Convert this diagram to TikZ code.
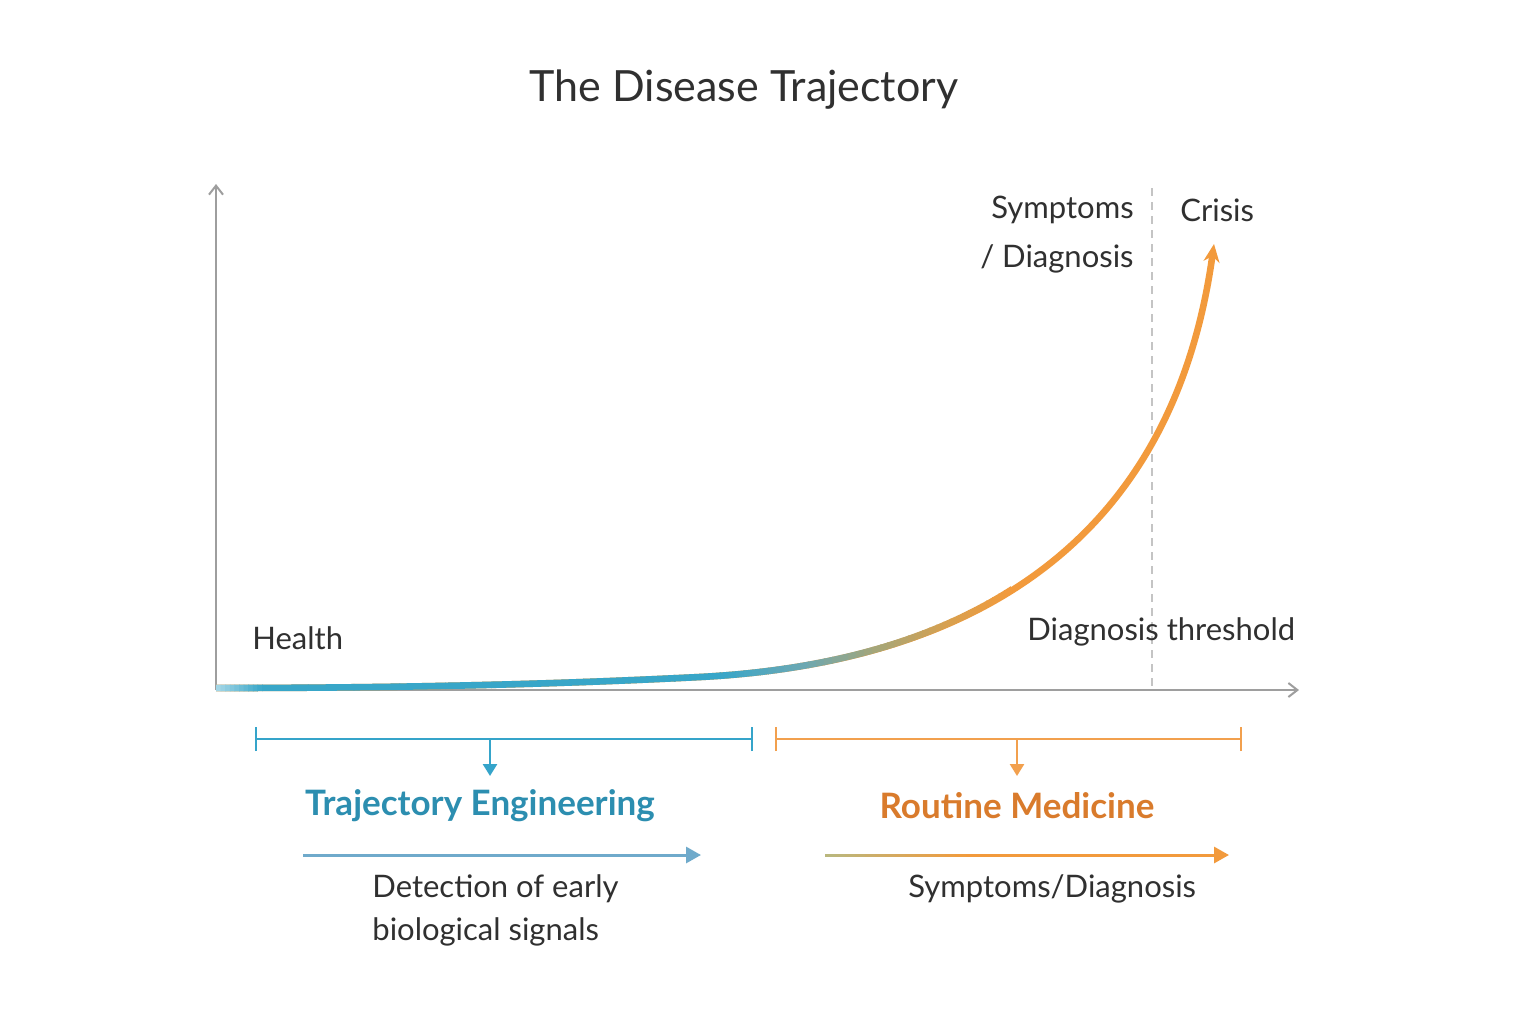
\documentclass[tikz,border=0pt]{standalone}
\usepackage{fontspec}
\setmainfont{Lato}
\usetikzlibrary{arrows.meta}
\definecolor{axisgray}{HTML}{9E9E9E}
\definecolor{dashgray}{HTML}{C4C4C4}
\definecolor{txt}{HTML}{303030}
\definecolor{cLB}{HTML}{A9D9E8}
\definecolor{cBL}{HTML}{38A6C8}
\definecolor{cTB}{HTML}{6AA8B4}
\definecolor{cOL}{HTML}{A8A676}
\definecolor{cOG}{HTML}{D9A04E}
\definecolor{cOR}{HTML}{F29A3C}
\definecolor{brBlue}{HTML}{35A4CA}
\definecolor{brOrange}{HTML}{F2A04E}
\definecolor{teBlue}{HTML}{2C8EB0}
\definecolor{rmOrange}{HTML}{D97B2C}
\definecolor{arBlue}{HTML}{6FAACB}
\definecolor{arOlive}{HTML}{B8B880}
\newcommand\diseasecurve[1]{\draw[#1] (216,688) .. controls (450,688) and (600,682) .. (700,677) .. controls (950,664) and (1170,560) .. (1214,244);}
\begin{document}
\begin{tikzpicture}[x=0.5pt,y=-0.5pt,
  axisline/.style={axisgray, line width=1pt, -{Straight Barb[length=4.5pt,width=7pt]}},
  curveline/.style={line width=3.3pt},
  bodytext/.style={txt, font=\fontsize{15.5pt}{18pt}\selectfont, inner sep=0pt},
  headB/.style={teBlue, font=\fontsize{17.5pt}{20pt}\selectfont\bfseries, inner sep=0pt},
  headO/.style={rmOrange, font=\fontsize{17.5pt}{20pt}\selectfont\bfseries, inner sep=0pt},
  brackB/.style={brBlue, line width=1.3pt},
  brackO/.style={brOrange, line width=1.3pt},
  downB/.style={brBlue, line width=1.3pt, -{Triangle[length=6pt,width=7pt]}},
  downO/.style={brOrange, line width=1.3pt, -{Triangle[length=6pt,width=7pt]}},
  flowB/.style={arBlue, line width=1.5pt, -{Triangle[length=7.5pt,width=8pt]}},
  flowO/.style={cOR, line width=1.5pt, -{Triangle[length=7.5pt,width=8pt]}}
]
\useasboundingbox (0,0) rectangle (1536,1024);
\fill[white] (0,0) rectangle (1536,1024);

% title
\node[txt, font=\fontsize{21.5pt}{25pt}\selectfont, inner sep=0pt] (title) at (744,90) {The Disease Trajectory};

% axes
\coordinate (o) at (216,690);
\coordinate (ytop) at (216,184);
\coordinate (xend) at (1299,690);
\draw[axisline] (o) -- (ytop);
\draw[axisline] (o) -- (xend);

% threshold dashed line
\coordinate (d1) at (1152,188);
\coordinate (d2) at (1152,688);
\draw[dashgray, line width=1pt, dash pattern=on 4pt off 3pt] (d1) -- (d2);

% curve: full orange with tip, then gradient overlay
\diseasecurve{curveline, cOR, -{Stealth[length=9pt,width=8pt]}}
\foreach \xa/\xb/\ca/\cb in {216/262/cLB/cBL, 262/720/cBL/cBL, 720/800/cBL/cTB, 800/880/cTB/cOL, 880/950/cOL/cOG, 950/1010/cOG/cOR}{
  \foreach \i in {0,...,9}{
    \pgfmathsetmacro\xl{\xa+(\xb-\xa)*\i/10}
    \pgfmathsetmacro\xr{\xa+(\xb-\xa)*(\i+1)/10+0.8}
    \pgfmathtruncatemacro\pp{95-10*\i}
    \begin{scope}
      \clip (\xl,500) rectangle (\xr,700);
      \diseasecurve{curveline, color=\ca!\pp!\cb}
    \end{scope}
  }
}

% labels on chart
\node[bodytext, align=right, anchor=east, font=\fontsize{15.5pt}{24.5pt}\selectfont] (sympd) at (1134,234.5) {Symptoms\\/ Diagnosis};
\node[bodytext, anchor=west] (crisis) at (1180,210) {Crisis};
\node[bodytext, anchor=west] (health) at (252,638) {Health};
\node[bodytext, anchor=west] (thresh) at (1027,632) {Diagnosis threshold};

% blue bracket
\coordinate (bl) at (256,739);
\coordinate (br) at (752,739);
\coordinate (bm) at (490,739);
\coordinate (bmd) at (490,776);
\draw[brackB] (bl) -- (br);
\draw[brackB] ([yshift=-6pt]bl) -- ([yshift=6pt]bl);
\draw[brackB] ([yshift=-6pt]br) -- ([yshift=6pt]br);
\draw[downB] (bm) -- (bmd);

% orange bracket
\coordinate (ol) at (776,739);
\coordinate (or) at (1241,739);
\coordinate (om) at (1017,739);
\coordinate (omd) at (1017,776);
\draw[brackO] (ol) -- (or);
\draw[brackO] ([yshift=-6pt]ol) -- ([yshift=6pt]ol);
\draw[brackO] ([yshift=-6pt]or) -- ([yshift=6pt]or);
\draw[downO] (om) -- (omd);

% headings
\node[headB] (te) at (480,806) {Trajectory Engineering};
\node[headO] (rm) at (1017,806) {Routine Medicine};

% flow arrows
\coordinate (fb1) at (303,855);
\coordinate (fb2) at (701,855);
\draw[flowB] (fb1) -- (fb2);
\coordinate (fo1) at (825,855);
\coordinate (fo2) at (1229,855);
\draw[flowO] (fo1) -- (fo2);
\foreach \i in {0,...,13}{
  \pgfmathsetmacro\xl{825+10*\i}
  \pgfmathsetmacro\xr{835.8+10*\i}
  \pgfmathtruncatemacro\pp{96-7*\i}
  \begin{scope}
    \clip (\xl,840) rectangle (\xr,870);
    \draw[line width=1.5pt, color=arOlive!\pp!cOR] (fo1) -- (fo2);
  \end{scope}
}

% bottom texts
\node[bodytext, align=left, anchor=west, font=\fontsize{15.5pt}{21.5pt}\selectfont] (detect) at (372,910.5) {Detection of early\\biological signals};
\node[bodytext, anchor=west] (sd) at (908,889) {Symptoms/Diagnosis};
\end{tikzpicture}
\end{document}
